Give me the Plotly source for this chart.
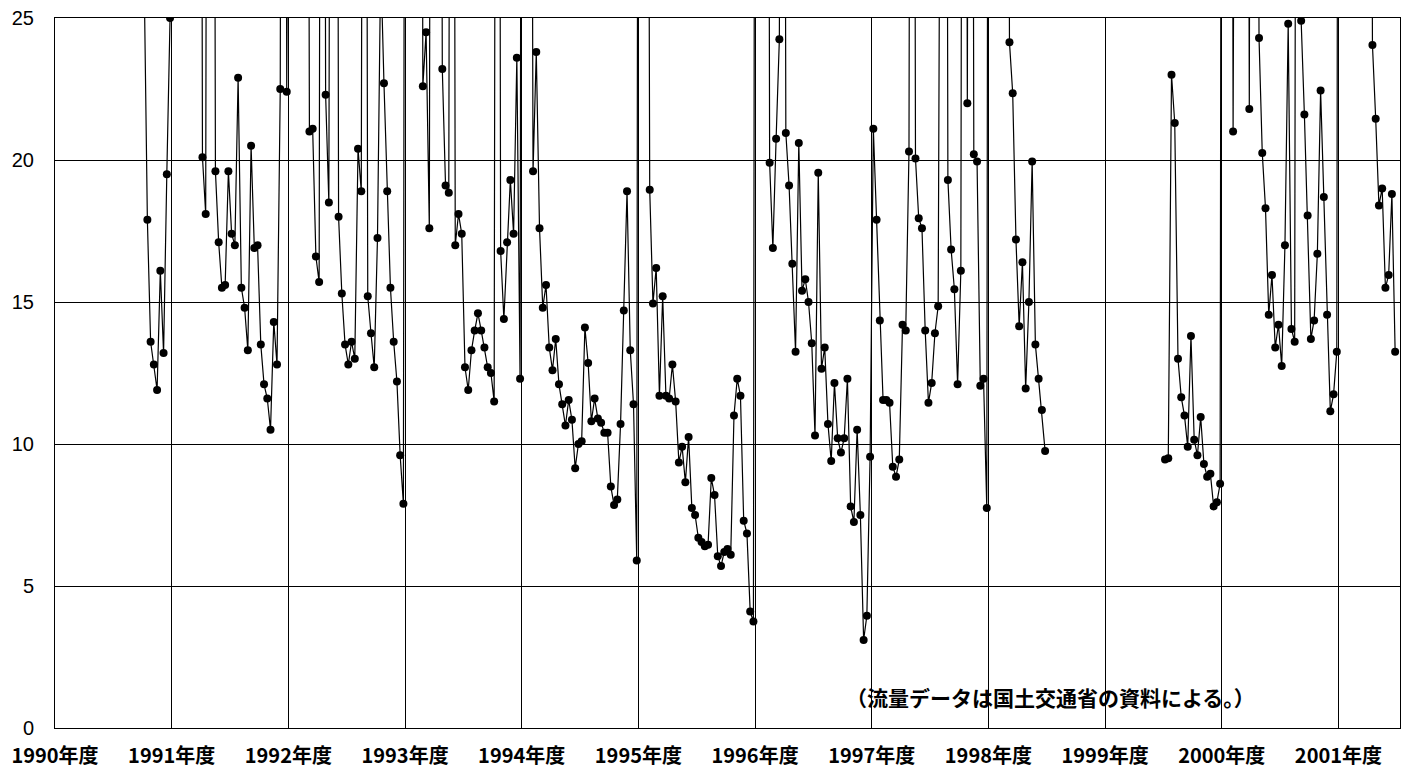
import plotly.graph_objects as go

# 10-day (旬) flow values per fiscal year, 36 values each (None = no data)
# values above 25 are off the visible scale (estimated)
fy1990 = [None]*27 + [26.5, 17.9, 13.6, 12.8, 11.9, 16.1, 13.2, 19.5, 25.0]
fy1991 = [70, 90, 60, 80, 110, 70, 60, 90, 75, 20.1, 18.1, 80, 70, 19.6, 17.1, 15.5, 15.6, 19.6,
          17.4, 17.0, 22.9, 15.5, 14.8, 13.3, 20.5, 16.9, 17.0, 13.5, 12.1, 11.6, 10.5, 14.3, 12.8, 22.5, 90, 22.4]
fy1992 = [80, 60, 95, 70, 85, 65, 21.0, 21.1, 16.6, 15.7, 80, 22.3, 18.5, 70, 75, 18.0, 15.3, 13.5,
          12.8, 13.6, 13.0, 20.4, 18.9, 70, 15.2, 13.9, 12.7, 17.25, 27.0, 22.7, 18.9, 15.5, 13.6, 12.2, 9.6, 7.9]
fy1993 = [90, 70, 85, 60, 75, 22.6, 24.5, 17.6, 80, 65, 70, 23.2, 19.1, 18.85, 75, 17.0, 18.1, 17.4,
          12.7, 11.9, 13.3, 14.0, 14.6, 14.0, 13.4, 12.7, 12.5, 11.5, 80, 16.8, 14.4, 17.1, 19.3, 17.4, 23.6, 12.3]
fy1994 = [90, 75, 60, 19.6, 23.8, 17.6, 14.8, 15.6, 13.4, 12.6, 13.7, 12.1, 11.4, 10.65, 11.55, 10.85, 9.15, 10.0,
          10.1, 14.1, 12.85, 10.8, 11.6, 10.9, 10.75, 10.4, 10.4, 8.5, 7.85, 8.05, 10.7, 14.7, 18.9, 13.3, 11.4, 5.9]
fy1995 = [95, 70, 60, 18.95, 14.95, 16.2, 11.7, 15.2, 11.7, 11.6, 12.8, 11.5, 9.35, 9.9, 8.65, 10.25, 7.75, 7.5,
          6.7, 6.55, 6.4, 6.45, 8.8, 8.2, 6.05, 5.7, 6.2, 6.3, 6.1, 11.0, 12.3, 11.7, 7.3, 6.85, 4.1, 3.75]
fy1996 = [90, 80, 70, 75, 19.9, 16.9, 20.75, 24.25, 70, 20.95, 19.1, 16.35, 13.25, 20.6, 15.4, 15.8, 15.0, 13.55,
          10.3, 19.55, 12.65, 13.4, 10.7, 9.4, 12.15, 10.2, 9.7, 10.2, 12.3, 7.8, 7.25, 10.5, 7.5, 3.1, 3.95, 9.55]
fy1997 = [21.1, 17.9, 14.35, 11.55, 11.55, 11.45, 9.2, 8.85, 9.45, 14.2, 14.0, 20.3, 80, 20.05, 17.95, 17.6, 14.0, 11.45,
          12.15, 13.9, 14.85, 70, 75, 19.3, 16.85, 15.45, 12.1, 16.1, 80, 22.0, 75, 20.2, 19.95, 12.05, 12.3, 7.75]
fy1998 = [90, 70, 80, 65, 75, 70, 24.15, 22.35, 17.2, 14.15, 16.4, 11.95, 15.0, 19.95, 13.5, 12.3, 11.2, 9.75] + [None]*18
fy1999 = [None]*18 + [9.45, 9.5, 23.0, 21.3, 13.0, 11.65, 11.0, 9.9, 13.8, 10.15, 9.6, 10.95, 9.3, 8.85, 8.95, 7.8, 7.95, 8.6]
fy2000 = [90, 70, 80, 21.0, 75, 85, 65, 70, 21.8, 80, 60, 24.3, 20.25, 18.3, 14.55, 15.95, 13.4, 14.2,
          12.75, 17.0, 24.8, 14.05, 13.6, 80, 24.9, 21.6, 18.05, 13.7, 14.35, 16.7, 22.45, 18.7, 14.55, 11.15, 11.75, 13.25]
fy2001 = [90, 70, 85, 60, 75, 80, 65, 70, 85, 60, 24.05, 21.45, 18.4, 19.0, 15.5, 15.95, 18.8, 13.25]

year_labels = ["1990年度", "1991年度", "1992年度", "1993年度", "1994年度", "1995年度",
               "1996年度", "1997年度", "1998年度", "1999年度", "2000年度", "2001年度"]
note_text = "（流量データは国土交通省の資料による。）"

series = fy1990 + fy1991 + fy1992 + fy1993 + fy1994 + fy1995 + fy1996 + fy1997 + fy1998 + fy1999 + fy2000 + fy2001
PER_YEAR = 36
xs = [i + 0.5 for i in range(len(series))]
tickvals = [i * PER_YEAR for i in range(len(year_labels))]

font_lat = "Liberation Sans, Arial, Noto Sans CJK JP, sans-serif"
font_jp = "Noto Sans CJK JP, Liberation Sans, sans-serif"

fig = go.Figure()
fig.add_trace(go.Scatter(
    x=xs, y=series, mode="lines+markers",
    line=dict(color="black", width=1.2),
    marker=dict(color="black", size=8),
    connectgaps=False, cliponaxis=True, hoverinfo="skip",
))

fig.update_layout(
    width=1417, height=770,
    margin=dict(l=55, r=17, t=18, b=42),
    plot_bgcolor="white", paper_bgcolor="white",
    showlegend=False,
    xaxis=dict(
        range=[0, 415], tickmode="array", tickvals=tickvals, ticktext=[f"<b>{t}</b>" for t in year_labels],
        showgrid=True, gridcolor="black", gridwidth=1,
        showline=True, linecolor="black", linewidth=1, mirror=True,
        ticks="", zeroline=False, automargin=False,
        tickfont=dict(family=font_jp, size=20, color="black"),
        ticklabelstandoff=10,
    ),
    yaxis=dict(
        range=[0, 25], tickvals=[0, 5, 10, 15, 20, 25],
        showgrid=True, gridcolor="black", gridwidth=1,
        showline=True, linecolor="black", linewidth=1, mirror=True,
        ticks="", zeroline=False, automargin=False,
        tickfont=dict(family=font_lat, size=20, color="black"),
        ticklabelstandoff=16,
    ),
    annotations=[dict(
        text=f"<b>{note_text}</b>", xref="paper", yref="paper",
        x=0.7405, y=0.044, xanchor="center", yanchor="middle", showarrow=False,
        font=dict(family=font_jp, size=21, color="black"),
    )],
)

fig.write_html("out.html", config={"displayModeBar": False},
               post_script="document.body.style.margin='0px';")
